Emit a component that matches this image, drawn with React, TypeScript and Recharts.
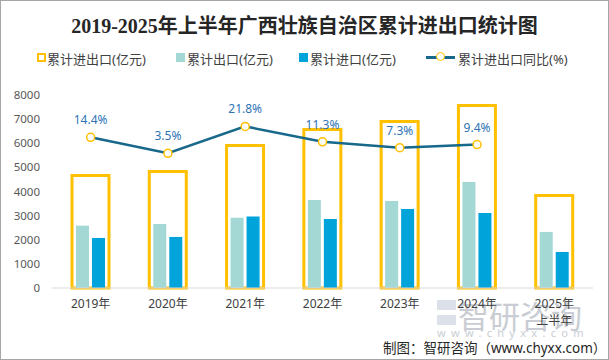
import { Bar, ComposedChart, LabelList, Line, XAxis, YAxis } from "recharts";

const years = ["2019年", "2020年", "2021年", "2022年", "2023年", "2024年", "2025年上半年"];
const totalTrade = [4660, 4826, 5905, 6570, 6900, 7565, 3830];
const exportsVal = [2585, 2656, 2917, 3651, 3610, 4398, 2324];
const importsVal = [2075, 2116, 2959, 2863, 3278, 3112, 1494];
const yoy: (number | null)[] = [14.4, 3.5, 21.8, 11.3, 7.3, 9.4, null];
const leftTicks = [0, 1000, 2000, 3000, 4000, 5000, 6000, 7000, 8000];

const data = years.map((year, i) => ({
  year,
  total: totalTrade[i],
  exp: exportsVal[i],
  imp: importsVal[i],
  yoy: yoy[i],
}));

const font = '"Microsoft YaHei", "Noto Sans", "Noto Sans CJK SC", sans-serif';

function YearTick(props: any) {
  const { x, y, payload } = props;
  const value: string = payload.value;
  const lines = value.length > 5 ? [value.slice(0, 5), value.slice(5)] : [value];
  return (
    <text x={x} y={y} textAnchor="middle" fontSize={12} fill="#404040" fontFamily={font}>
      {lines.map((line, i) => (
        <tspan key={i} x={x} dy={i === 0 ? 12 : 17}>
          {line}
        </tspan>
      ))}
    </text>
  );
}

function LegendItems() {
  const text = { position: "absolute" as const, top: 49, fontSize: 13, color: "#404040", whiteSpace: "nowrap" as const };
  return (
    <>
      <div style={{ position: "absolute", left: 37, top: 53, width: 5, height: 5, border: "2px solid #FFC000" }} />
      <div style={{ ...text, left: 47 }}>累计进出口(亿元)</div>
      <div style={{ position: "absolute", left: 176, top: 53, width: 9, height: 9, background: "#A3D8D5" }} />
      <div style={{ ...text, left: 187 }}>累计出口(亿元)</div>
      <div style={{ position: "absolute", left: 299, top: 53, width: 9, height: 9, background: "#00A3DA" }} />
      <div style={{ ...text, left: 310 }}>累计进口(亿元)</div>
      <div style={{ position: "absolute", left: 426, top: 56, width: 29, height: 2.5, background: "#17688A" }} />
      <div style={{ position: "absolute", left: 436, top: 52, width: 7, height: 7, borderRadius: "50%", border: "1.5px solid #FFC000", background: "#fff" }} />
      <div style={{ ...text, left: 458 }}>累计进出口同比(%)</div>
    </>
  );
}

export default function App() {
  return (
    <div style={{ position: "absolute", left: 0, top: 0, width: 609, height: 360, background: "#fff", fontFamily: font }}>
      <div
        style={{
          position: "absolute",
          top: 10,
          left: 0,
          width: 609,
          textAlign: "center",
          fontSize: 20,
          fontWeight: "bold",
          color: "#262626",
          fontFamily: '"Liberation Serif", "Noto Sans CJK SC", serif',
        }}
      >
        2019-2025年上半年广西壮族自治区累计进出口统计图
      </div>
      <LegendItems />
      {/* watermark sits under the chart, like in the source picture */}
      <div style={{ position: "absolute", left: 437, top: 300, width: 19, height: 25, opacity: 0.4 }}>
        <div style={{ width: 19, height: 10, background: "#A9B4C8" }} />
        <div style={{ width: 19, height: 10, marginTop: 5, background: "#A9B4C8" }} />
      </div>
      <div style={{ position: "absolute", left: 458, top: 292, fontSize: 31, color: "#C9CDD3", whiteSpace: "nowrap" }}>
        智研咨询
      </div>
      <div style={{ position: "absolute", left: 437, top: 325, fontSize: 11, letterSpacing: 5.3, color: "#C9CDD3", whiteSpace: "nowrap" }}>
        www.chyxx.com
      </div>
      <ComposedChart
        width={609}
        height={360}
        data={data}
        margin={{ top: 95, right: 16, bottom: 42, left: 0 }}
        barGap={3}
        style={{ position: "absolute", left: 0, top: 0 }}
      >
        <XAxis
          xAxisId="inner"
          dataKey="year"
          tickLine={false}
          axisLine={{ stroke: "#D9D9D9" }}
          tick={<YearTick />}
          interval={0}
        />
        <XAxis xAxisId="box" dataKey="year" hide height={0} />
        <YAxis
          yAxisId="left"
          domain={[0, 8000]}
          ticks={leftTicks}
          width={52}
          axisLine={false}
          tickLine={false}
          tickSize={0}
          tickMargin={12}
          tick={{ fontSize: 11.5, fill: "#595959", fontFamily: font }}
        />
        <YAxis yAxisId="right" orientation="right" hide domain={[-88.3, 43.2]} allowDataOverflow />
        <Bar
          xAxisId="box"
          yAxisId="left"
          dataKey="total"
          barSize={37}
          fill="none"
          stroke="#FFC000"
          strokeWidth={3}
          isAnimationActive={false}
        />
        <Bar xAxisId="inner" yAxisId="left" dataKey="exp" barSize={13} fill="#A3D8D5" isAnimationActive={false} />
        <Bar xAxisId="inner" yAxisId="left" dataKey="imp" barSize={13} fill="#00A3DA" isAnimationActive={false} />
        <Line
          xAxisId="inner"
          yAxisId="right"
          dataKey="yoy"
          type="linear"
          stroke="#17688A"
          strokeWidth={2.5}
          dot={{ r: 4, fill: "#fff", stroke: "#FFC000", strokeWidth: 1.5 }}
          connectNulls={false}
          isAnimationActive={false}
        >
          <LabelList
            dataKey="yoy"
            position="top"
            offset={13}
            fontSize={12}
            fill="#2E74B5"
            fontFamily={font}
            formatter={(v: any) => (v == null ? "" : `${v}%`)}
          />
        </Line>
      </ComposedChart>
      <div style={{ position: "absolute", left: 383, top: 337, fontSize: 13.5, color: "#262626", whiteSpace: "nowrap" }}>
        制图：智研咨询（www.chyxx.com）
      </div>
      <div style={{ position: "absolute", left: 0, top: 0, width: 609, height: 360, boxSizing: "border-box", border: "1px solid #A6A6A6", pointerEvents: "none" }} />
    </div>
  );
}
